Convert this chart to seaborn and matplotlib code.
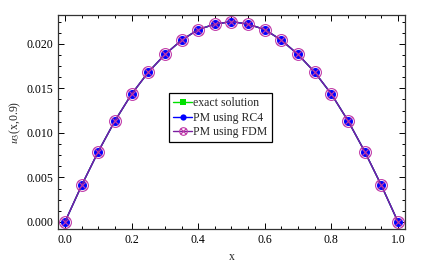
import numpy as np
import pandas as pd
import matplotlib
matplotlib.use("Agg")
import matplotlib.pyplot as plt
import seaborn as sns
from matplotlib.path import Path
from matplotlib.ticker import MultipleLocator

x_vals = [0.0, 0.05, 0.1, 0.15, 0.2, 0.25, 0.3, 0.35, 0.4, 0.45, 0.5,
          0.55, 0.6, 0.65, 0.7, 0.75, 0.8, 0.85, 0.9, 0.95, 1.0]
half = [0.0, 0.0041, 0.0079, 0.01135, 0.01435, 0.0168, 0.0188, 0.0204, 0.0216, 0.0222]
exact_vals = half + [0.0225] + half[::-1]
rc4_vals = half + [0.0225] + half[::-1]
fdm_vals = half + [0.0225] + half[::-1]

sns.set_theme(style="ticks")
plt.rcParams['font.family'] = ['Liberation Serif', 'DejaVu Serif']
plt.rcParams['mathtext.fontset'] = 'stix'

fig = plt.figure(figsize=(4.27, 2.66), dpi=100)
ax = fig.add_axes([0.1358, 0.139, 0.8127, 0.8035])

circ = Path.unit_circle()
d = 0.72
cross1 = Path([[-d, -d], [d, d]], [Path.MOVETO, Path.LINETO])
cross2 = Path([[-d, d], [d, -d]], [Path.MOVETO, Path.LINETO])
otimes = Path.make_compound_path(circ, cross1, cross2)

df = pd.DataFrame({"x": x_vals, "exact": exact_vals, "rc4": rc4_vals, "fdm": fdm_vals})

sns.lineplot(data=df, x="x", y="exact", ax=ax, color="#00e000", marker="s",
             markersize=5, markeredgewidth=0, lw=1.0, label="exact solution")
sns.lineplot(data=df, x="x", y="rc4", ax=ax, color="#0000ff", marker="o",
             markersize=6.5, markeredgewidth=0, lw=1.0, label="PM using RC4")
sns.lineplot(data=df, x="x", y="fdm", ax=ax, color="#7a1fa0", marker=otimes,
             markersize=8.5, markerfacecolor="none", markeredgecolor="#c03aa8",
             markeredgewidth=0.8, lw=1.0, label="PM using FDM")

ax.set_xlim(-0.021, 1.021)
ax.set_ylim(-0.0008, 0.0232)
ax.xaxis.set_major_locator(MultipleLocator(0.2))
ax.xaxis.set_minor_locator(MultipleLocator(0.05))
ax.yaxis.set_major_locator(MultipleLocator(0.005))
ax.yaxis.set_minor_locator(MultipleLocator(0.00125))
ax.yaxis.set_major_formatter(matplotlib.ticker.FormatStrFormatter('%.3f'))
ax.xaxis.set_major_formatter(matplotlib.ticker.FormatStrFormatter('%.1f'))
ax.tick_params(which='both', direction='in', top=True, right=True, colors='black',
               labelsize=8.5, width=0.7)
ax.tick_params(which='major', length=4)
ax.tick_params(which='minor', length=2)
for s in ax.spines.values():
    s.set_linewidth(0.9)
    s.set_color('#333333')

ax.set_xlabel("x", fontsize=8.5, labelpad=4)
ax.set_ylabel(r"$u_3$(x,0.9)", fontsize=8.5, labelpad=2)

leg = ax.legend(loc="upper left", bbox_to_anchor=(0.32, 0.635), fontsize=8.5,
                frameon=True, fancybox=False, edgecolor='black', framealpha=1,
                borderpad=0.35, labelspacing=0.2, handlelength=1.6, handletextpad=0.1,
                borderaxespad=0)
leg.get_frame().set_linewidth(0.9)
for h, ms in zip(leg.legend_handles, [4, 4.5, 5.5]):
    h.set_markersize(ms)

fig.savefig("out.png", dpi=100)
